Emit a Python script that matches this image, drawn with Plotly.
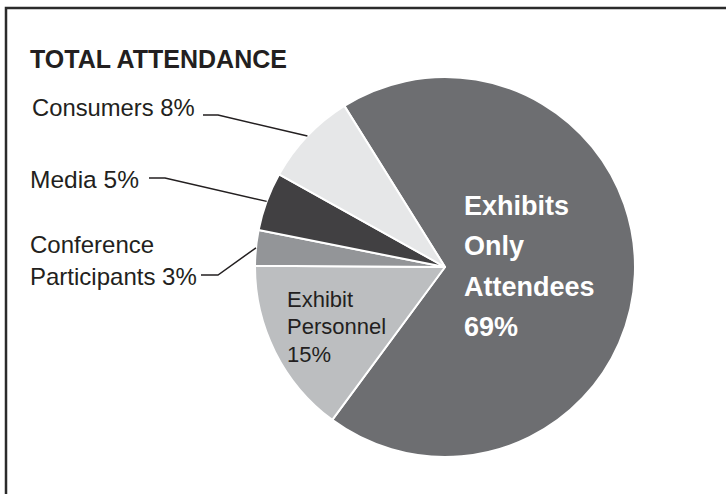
import math
import plotly.graph_objects as go

# ---- data ----
labels = ["Exhibits Only Attendees", "Exhibit Personnel", "Conference Participants", "Media", "Consumers"]
values = [69, 15, 3, 5, 8]
colors = ["#6d6e71", "#bcbec0", "#939598", "#414042", "#e6e7e8"]
title_text = "TOTAL ATTENDANCE"

W, H = 726, 494
CX, CY, R = 445, 267, 190
ROT = -32

FONT = "Liberation Sans Narrow, Arial Narrow, Liberation Sans, Arial, sans-serif"


def px(x):
    return x / W


def py(y):
    return 1 - y / H


fig = go.Figure(go.Pie(
    labels=labels, values=values, sort=False, direction="clockwise", rotation=ROT,
    marker=dict(colors=colors, line=dict(color="white", width=2)),
    textinfo="none", hoverinfo="skip", showlegend=False,
    domain=dict(x=[px(CX - R), px(CX + R)], y=[py(CY + R), py(CY - R)]),
))

# slice mid-angles (clockwise from 12 o'clock)
total = sum(values)
mids = {}
start = ROT
for lab, v in zip(labels, values):
    span = v / total * 360
    mids[lab] = start + span / 2
    start += span


def edge(lab):
    a = math.radians(mids[lab])
    return CX + R * math.sin(a), CY - R * math.cos(a)


shapes = [dict(type="rect", xref="paper", yref="paper", x0=px(6), y0=py(8), x1=px(740), y1=py(510),
               line=dict(color="#2b2b2b", width=2.5))]

annotations = []


def txt(x, baseline, s, size, color="#231f20", bold=False):
    annotations.append(dict(x=px(x - 3), y=py(baseline + 0.3 * size), xref="paper", yref="paper",
                            text=(f"<b>{s}</b>" if bold else s),
                            showarrow=False, xanchor="left", yanchor="bottom",
                            font=dict(family=FONT, size=size, color=color)))


# title
txt(31, 68, title_text, 25, bold=True)

# outside labels
outside = [
    ("Consumers", ["Consumers 8%"], (33, 116), 23.8, (203, 115), (218, 115)),
    ("Media", ["Media 5%"], (31, 188), 24.5, (149, 178), (165, 178)),
    ("Conference Participants", ["Conference", "Participants 3%"], (31, 253), 24, (201, 275), (218, 275)),
]
for lab, lines, (tx, ty), fs, p0, p1 in outside:
    for i, ln in enumerate(lines):
        txt(tx, ty + i * 32, ln, fs)
    ex, ey = edge(lab)
    shapes.append(dict(type="path", xref="paper", yref="paper",
                       path=f"M {px(p0[0])},{py(p0[1])} L {px(p1[0])},{py(p1[1])} L {px(ex)},{py(ey)}",
                       line=dict(color="#231f20", width=1.5)))

# inside labels
for i, ln in enumerate(["Exhibit", "Personnel", "15%"]):
    txt(288, 307 + i * 27.5, ln, 22)
for i, ln in enumerate(["Exhibits", "Only", "Attendees", "69%"]):
    txt(465, 215 + i * 40.3, ln, 27, color="white", bold=True)

fig.update_layout(
    width=W, height=H, margin=dict(l=0, r=0, t=0, b=0),
    paper_bgcolor="white", plot_bgcolor="white",
    shapes=shapes, annotations=annotations,
)

fig.write_html("out.html")
